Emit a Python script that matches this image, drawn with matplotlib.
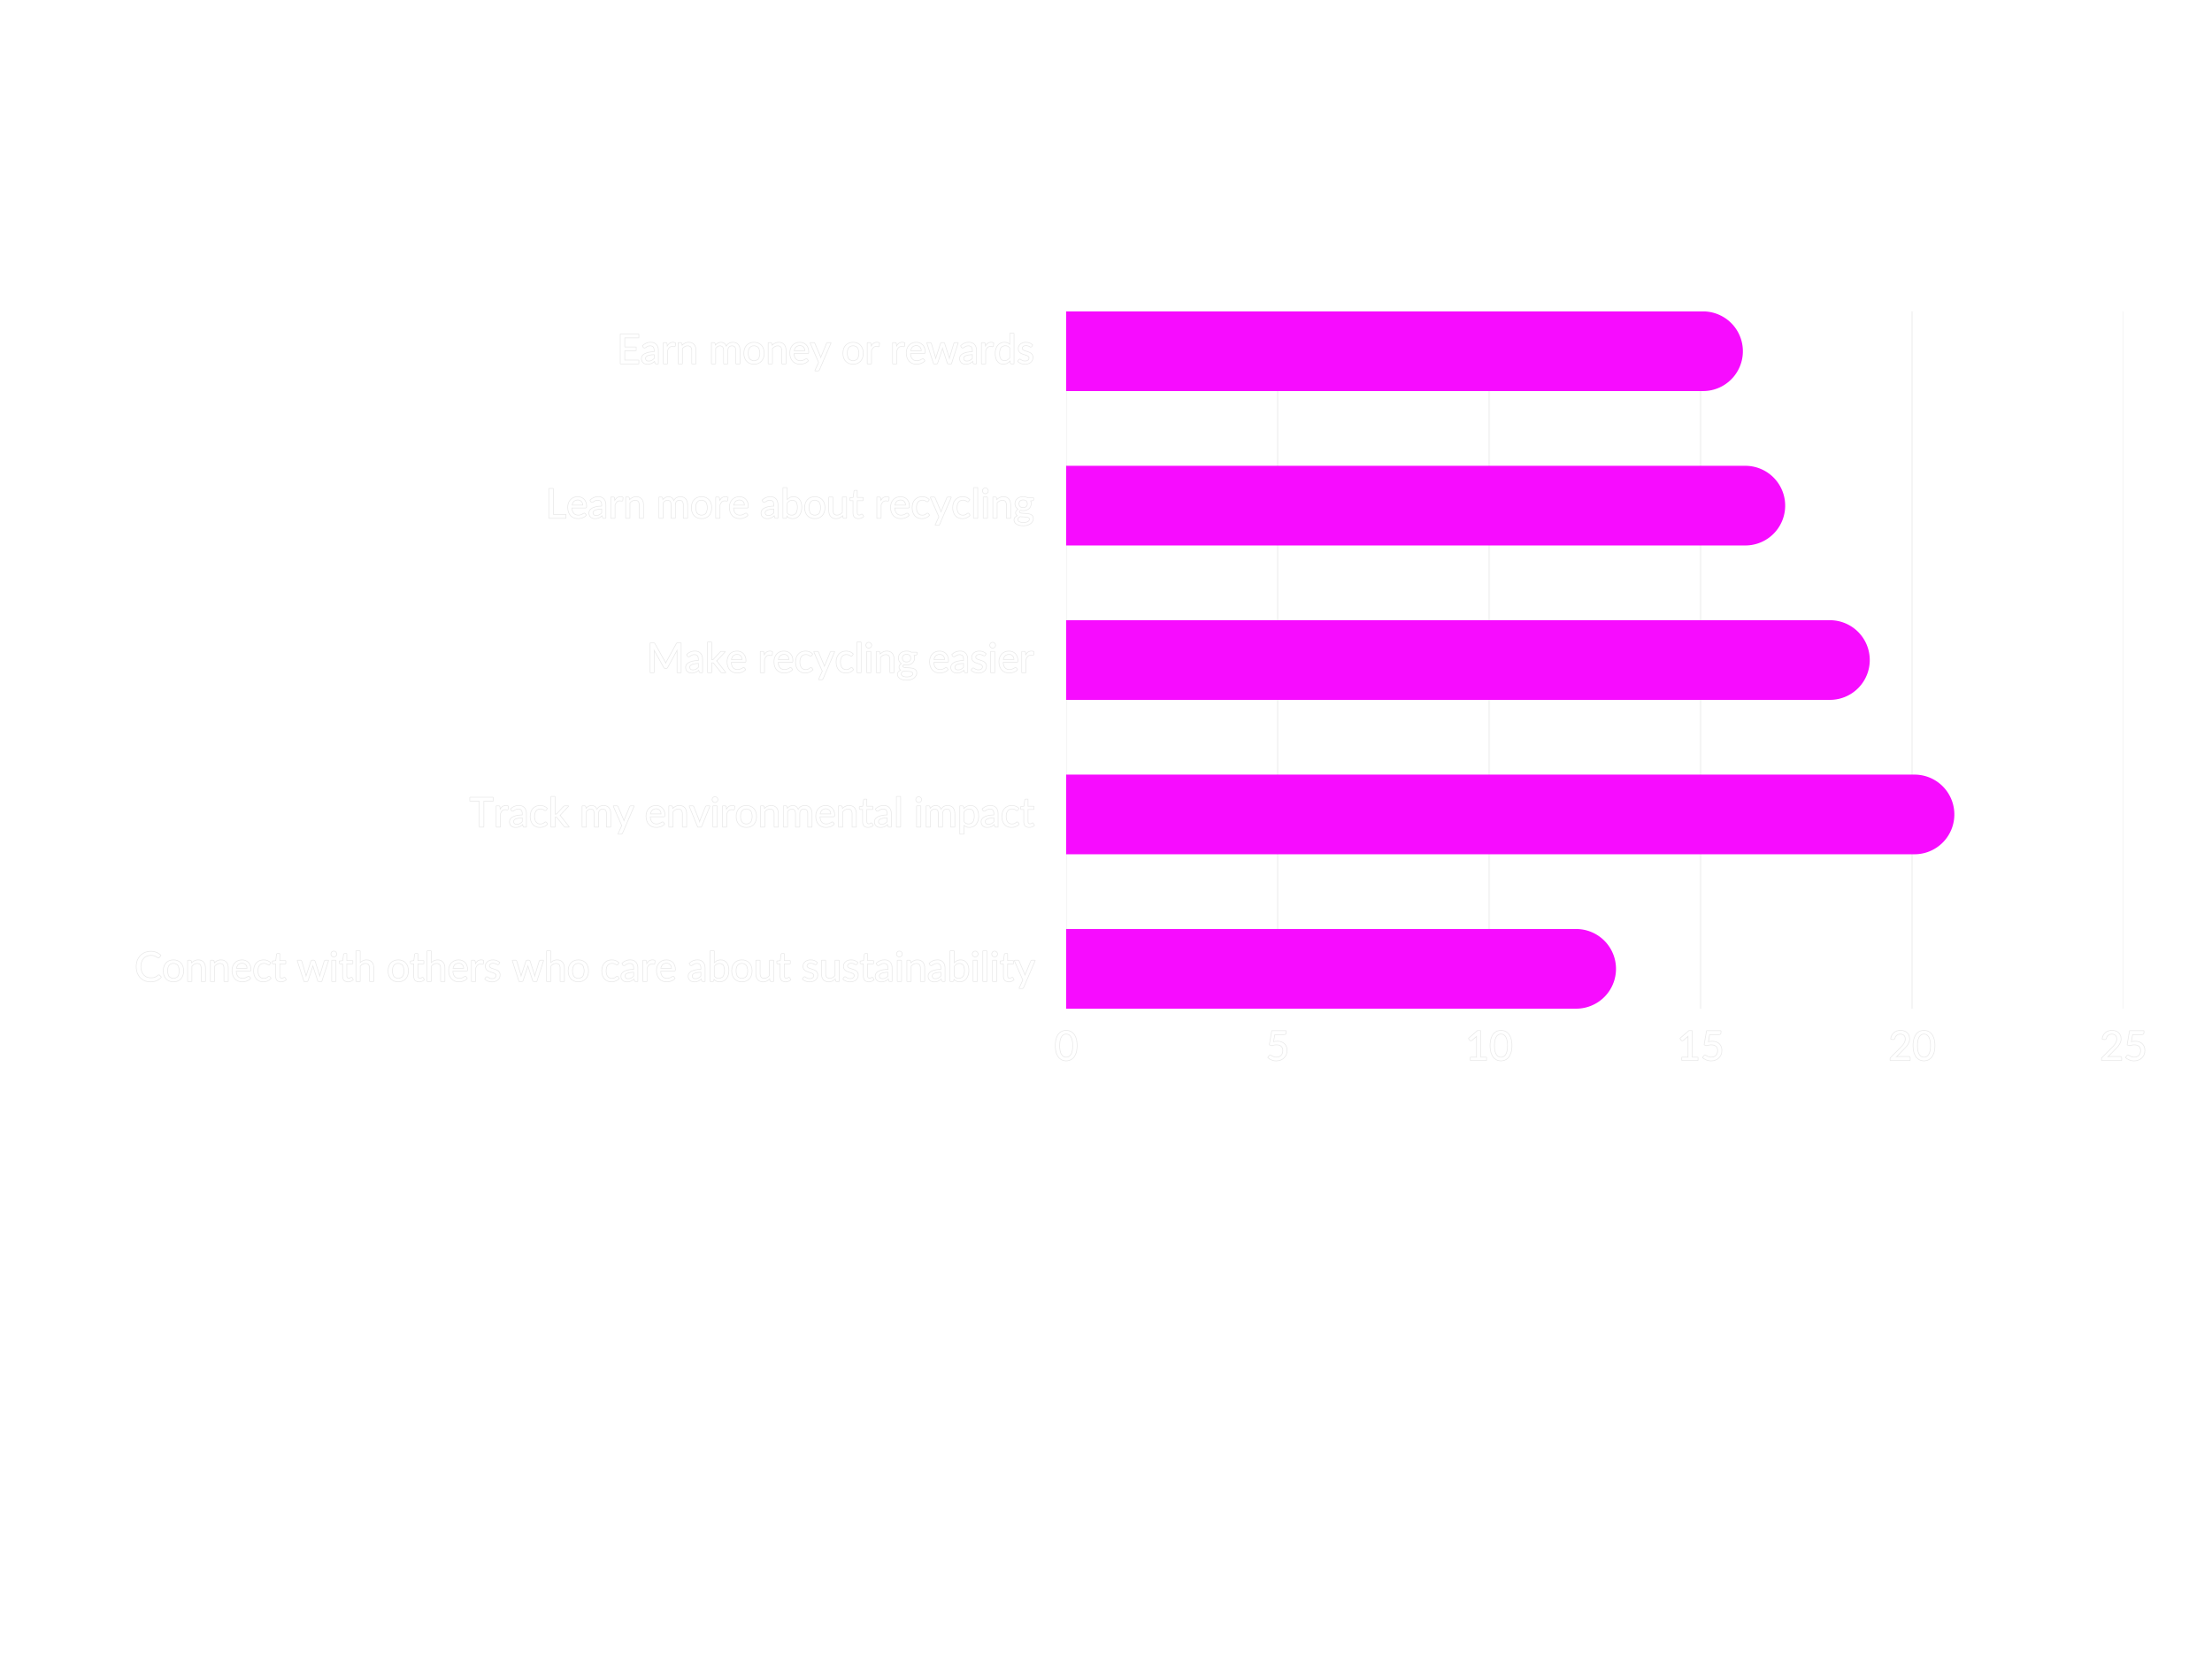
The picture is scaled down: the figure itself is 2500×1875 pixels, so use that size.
import matplotlib
matplotlib.use("Agg")
import numpy as np
import matplotlib.pyplot as plt
import matplotlib.patheffects as pe
import matplotlib.transforms as mtransforms
from matplotlib.path import Path
from matplotlib.patches import PathPatch

categories = [
    "Earn money or rewards",
    "Learn more about recycling",
    "Make recycling easier",
    "Track my environmental impact",
    "Connect with others who care about sustainability",
]
values = [16, 17, 19, 21, 13]
xticks = [0, 5, 10, 15, 20, 25]

BAR_COLOR = "#f70cff"
TEXT_COLOR = "#ffffff"
OUTLINE_COLOR = "#e8e8e8"
GRID_COLOR = "#f5f5f5"
FONT = ["Lato", "DejaVu Sans"]

fig = plt.figure(figsize=(10, 7.5), dpi=250, facecolor="white")
ax = fig.add_axes([0.482, 0.392, 0.478, 0.4203])
ax.set_facecolor("white")

bar_h = 0.516
ax.set_xlim(0, 25)
ax.set_ylim(len(categories) - 1 + bar_h / 2, -bar_h / 2)

fig.canvas.draw()
bbox = ax.get_window_extent()
px_per_x = bbox.width / 25
px_per_y = bbox.height / (len(categories) - 1 + bar_h)
r_px = bar_h * px_per_y / 2
r_x = r_px / px_per_x

ys = list(range(len(categories)))
t = np.linspace(-np.pi / 2, np.pi / 2, 60)
for y, v in zip(ys, values):
    cx = v - r_x
    verts = [(0, y - bar_h / 2)]
    verts += [(cx + r_x * np.cos(a), y + bar_h / 2 * np.sin(a)) for a in t]
    verts += [(0, y + bar_h / 2), (0, y - bar_h / 2)]
    codes = [Path.MOVETO] + [Path.LINETO] * (len(verts) - 2) + [Path.CLOSEPOLY]
    ax.add_patch(PathPatch(Path(verts, codes), facecolor=BAR_COLOR,
                           linewidth=0, zorder=3))

ax.set_xticks(xticks)
ax.set_xticklabels([str(tk) for tk in xticks])
ax.set_yticks(ys)
ax.set_yticklabels(categories)
effects = [pe.withStroke(linewidth=0.4, foreground=OUTLINE_COLOR)]
for lbl in ax.get_xticklabels() + ax.get_yticklabels():
    lbl.set_family(FONT)
    lbl.set_color(TEXT_COLOR)
    lbl.set_fontsize(13.3)
    lbl.set_path_effects(effects)
ax.tick_params(axis="both", length=0)
ax.tick_params(axis="x", pad=7)
ax.tick_params(axis="y", pad=10.7)

# nudge y labels up slightly to match reference baseline
offset = mtransforms.ScaledTranslation(0, 3 / 250, fig.dpi_scale_trans)
for lbl in ax.get_yticklabels():
    lbl.set_transform(lbl.get_transform() + offset)

ax.grid(axis="x", color=GRID_COLOR, linewidth=0.6, zorder=0)
ax.set_axisbelow(True)
for s in ax.spines.values():
    s.set_visible(False)

fig.savefig("out.png", dpi=250, facecolor="white")
